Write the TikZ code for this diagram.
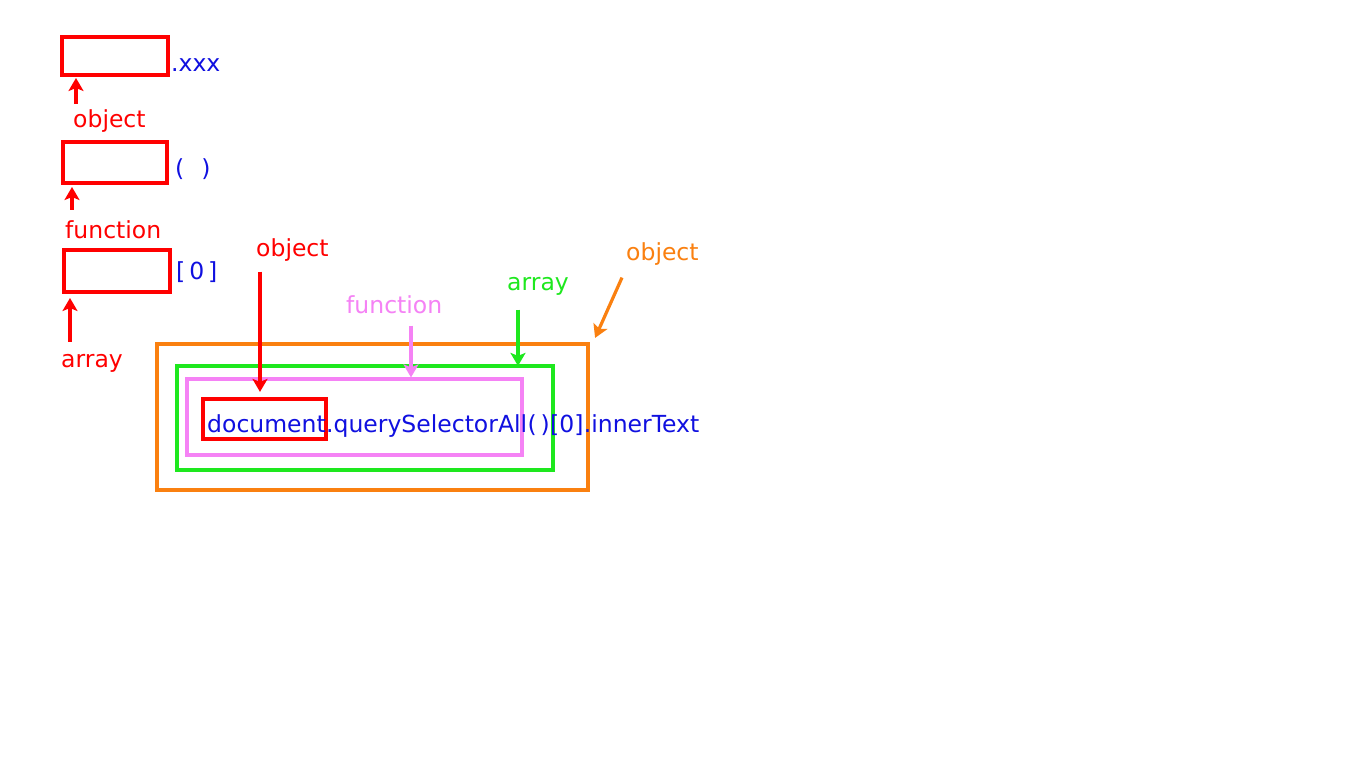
\documentclass[tikz,border=0pt]{standalone}
\usepackage{fontspec}
\setmainfont{DejaVu Sans}
\usetikzlibrary{arrows.meta}

\definecolor{jsred}{HTML}{FF0000}
\definecolor{jsblue}{HTML}{1010E0}
\definecolor{jspink}{HTML}{F582F5}
\definecolor{jsgreen}{HTML}{1EE81E}
\definecolor{jsorange}{HTML}{FA8010}

\tikzset{
  frame/.style={draw=#1, line width=3.2pt},
  word/.style={anchor=base west, text=#1},
  pointer/.style={draw=#1, line width=3.2pt, -{Stealth[length=13pt,width=15pt,inset=3pt]}}
}

\begin{document}
\begin{tikzpicture}[x=1pt, y=-1pt,
    every node/.style={inner sep=0pt, font=\fontsize{23.5}{28}\selectfont}]
    \fill[white] (0,0) rectangle (1366,768);
    \useasboundingbox (0,0) rectangle (1366,768);

    % left column
    \node[frame=jsred, minimum width=106pt, minimum height=38pt] (box1) at (115,56) {};
    \node[frame=jsred, minimum width=104pt, minimum height=41pt] (box2) at (115,162.5) {};
    \node[frame=jsred, minimum width=106pt, minimum height=42pt] (box3) at (117,271) {};
    \node[word=jsblue] (dotxxx) at (171,72) {.xxx};
    \node[word=jsblue] (callpar) at (175,176) {(\hspace{17pt})};
    \node[word=jsblue] (index) at (176,279) {[\,0\,]};
    \node[word=jsred] (objleft) at (73,128) {object};
    \node[word=jsred] (funcleft) at (65,238) {function};
    \node[word=jsred] (arrleft) at (61,367) {array};
    \draw[pointer=jsred] ([xshift=3pt,yshift=6pt]objleft.north west) -- ([xshift=15.6pt,yshift=-1.4pt]box1.south west);
    \draw[pointer=jsred] ([xshift=7pt,yshift=10pt]funcleft.north west) -- ([xshift=10.6pt,yshift=-2.4pt]box2.south west);
    \draw[pointer=jsred] ([xshift=9pt,yshift=12pt]arrleft.north west) -- ([xshift=7.6pt,yshift=-4.4pt]box3.south west);

    % the expression
    \node[frame=jsorange, minimum width=431pt, minimum height=146pt] (objbox) at (372.5,417) {};
    \node[frame=jsgreen, minimum width=376pt, minimum height=104pt] (arrbox) at (365,418) {};
    \node[frame=jspink, minimum width=335pt, minimum height=76pt] (funcbox) at (354.5,417) {};
    \node[frame=jsred, minimum width=123pt, minimum height=40pt] (docbox) at (264.5,419) {};
    \node[word=jsblue] (doc) at (207,432) {document};
    \node[word=jsblue] (qsa) at (doc.base east) {.querySelectorAll};
    \node[word=jsblue] (qpar) at (qsa.base east) {(\,)};
    \node[word=jsblue] (qidx) at (qpar.base east) {[0]};
    \node[word=jsblue] (inner) at (qidx.base east) {.innerText};

    % labels above
    \node[word=jsred] (objtop) at (256,256) {object};
    \node[word=jspink] (functop) at (346,313) {function};
    \node[word=jsgreen] (arrtop) at (507,290) {array};
    \node[word=jsorange] (objright) at (626,260) {object};
    \draw[pointer=jsred] ([xshift=4pt,yshift=-10.5pt]objtop.south west) -- ([xshift=-4.5pt,yshift=5.5pt]docbox.north);
    \draw[pointer=jspink] ([xshift=65pt,yshift=-12pt]functop.south west) -- ([xshift=56.5pt]funcbox.north);
    \draw[pointer=jsgreen] ([xshift=11pt,yshift=-14.5pt]arrtop.south west) -- ([xshift=153pt,yshift=-1.5pt]arrbox.north);
    \draw[pointer=jsorange] ([xshift=-4pt,yshift=-12.5pt]objright.south west) -- ([xshift=5.5pt,yshift=4.5pt]objbox.north east);
\end{tikzpicture}
\end{document}
